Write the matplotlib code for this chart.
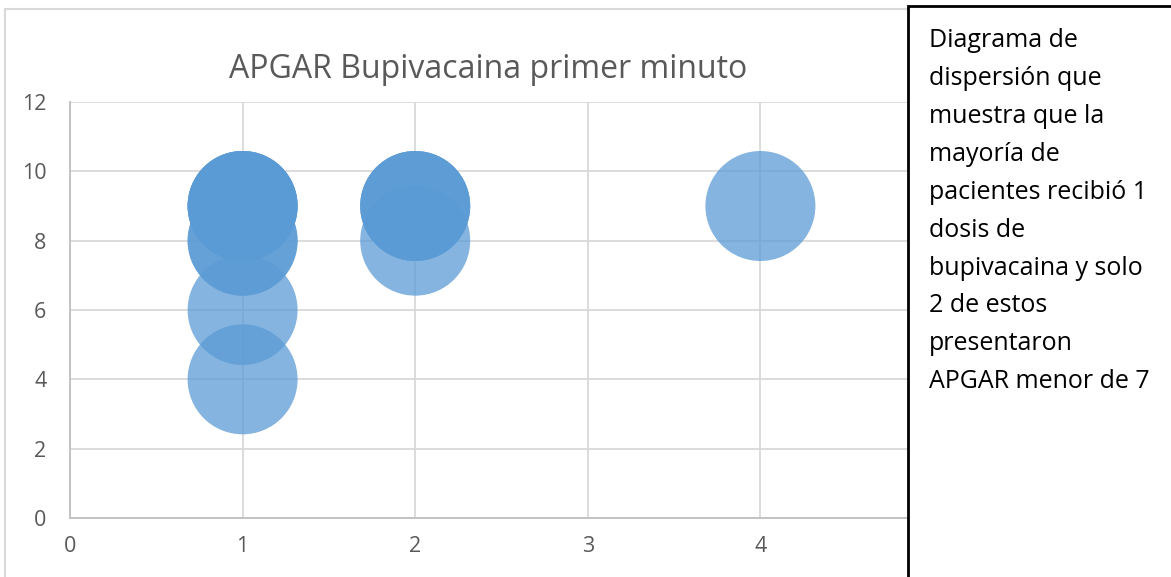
import matplotlib.pyplot as plt
from matplotlib.patches import Rectangle

# dosis de bupivacaina vs APGAR primer minuto (one entry per patient)
dosis = [1, 1, 1, 1, 1, 1, 1, 1, 2, 2, 2, 2, 4]
apgar = [9, 9, 9, 9, 8, 8, 6, 4, 9, 9, 9, 8, 9]

title = "APGAR Bupivacaina primer minuto"
note = ("Diagrama de\ndispersión que\nmuestra que la\nmayoría de\npacientes recibió 1\n"
        "dosis de\nbupivacaina y solo\n2 de estos\npresentaron\nAPGAR menor de 7")

W, H = 1171, 577
fig = plt.figure(figsize=(W / 100, H / 100), dpi=100)
plt.rcParams['font.family'] = ['Open Sans', 'DejaVu Sans']

# outer chart frame
fig.patches.append(Rectangle((5 / W, -0.05), 1.0, 1 - 9 / H + 0.05, transform=fig.transFigure,
                             fill=False, edgecolor='#d9d9d9', linewidth=1.5, zorder=0))

ax = fig.add_axes([70 / W, 1 - 518 / H, (933 - 70) / W, (518 - 102) / H])
ax.scatter(dosis, apgar, s=6270, color='#5b9bd5', alpha=0.75, edgecolors='none', zorder=3)
ax.set_xlim(0, 5)
ax.set_ylim(0, 12)
ax.set_xticks(range(0, 6))
ax.set_yticks(range(0, 13, 2))
ax.grid(True, color='#d9d9d9', linewidth=1.3, zorder=0)
ax.set_axisbelow(True)
for s in ['top', 'right']:
    ax.spines[s].set_visible(False)
for s in ['left', 'bottom']:
    ax.spines[s].set_color('#bfbfbf')
    ax.spines[s].set_linewidth(1.3)
ax.tick_params(length=0, labelsize=15.5, labelcolor='#595959')
ax.tick_params(axis='x', pad=13)
ax.tick_params(axis='y', pad=17)
ax.set_title(title, fontsize=23, color='#595959', pad=17, x=0.484)

# text box on the right
fig.patches.append(Rectangle((908 / W, -0.05), 1.0, 1 - 6 / H + 0.05, transform=fig.transFigure,
                             facecolor='white', edgecolor='black', linewidth=2, zorder=5))
fig.text(929 / W, 1 - 28 / H, note, fontsize=18, color='black', va='top', ha='left',
         linespacing=1.68, zorder=6)

fig.savefig('out.png', dpi=100)
